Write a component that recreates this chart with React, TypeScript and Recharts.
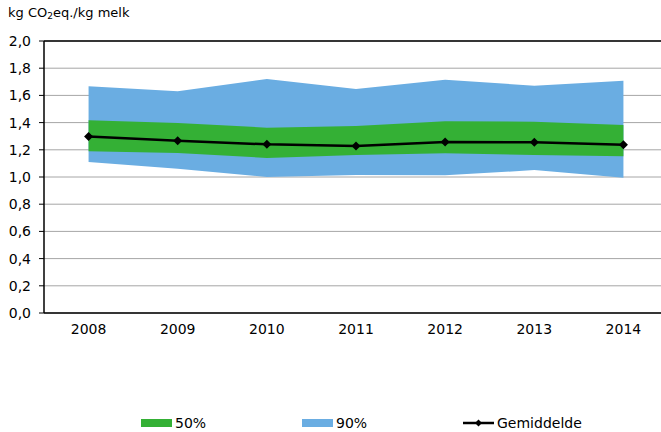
import React from "react";
import {
  ComposedChart,
  Area,
  Line,
  XAxis,
  YAxis,
  CartesianGrid,
  ReferenceLine,
} from "recharts";

const years = ["2008", "2009", "2010", "2011", "2012", "2013", "2014"];
const mean = [1.297, 1.267, 1.24, 1.228, 1.257, 1.255, 1.238];
const p50Low = [1.19, 1.176, 1.14, 1.162, 1.174, 1.162, 1.152];
const p50High = [1.417, 1.397, 1.363, 1.375, 1.41, 1.407, 1.382];
const p90Low = [1.11, 1.06, 1.0, 1.015, 1.012, 1.051, 0.995];
const p90High = [1.667, 1.63, 1.72, 1.647, 1.715, 1.671, 1.708];
const yTicks = [0, 0.2, 0.4, 0.6, 0.8, 1.0, 1.2, 1.4, 1.6, 1.8, 2.0];

const GREEN = "#34B035";
const BLUE = "#6AADE2";
const FONT = "'DejaVu Sans', Verdana, sans-serif";

const data = years.map((year, i) => ({
  x: i,
  year,
  mean: mean[i],
  p50: [p50Low[i], p50High[i]],
  p90: [p90Low[i], p90High[i]],
}));

const labelTicks = years.map((_, i) => i);
const edgeTicks = [...years.map((_, i) => i - 0.5), years.length - 0.5];

const legendItems = [
  { name: "50%", kind: "box", color: GREEN },
  { name: "90%", kind: "box", color: BLUE },
  { name: "Gemiddelde", kind: "line", color: "#000" },
];

const Diamond = (props: any) => {
  const { cx, cy } = props;
  if (cx == null || cy == null) return null;
  const r = 4.5;
  return (
    <path
      key={`d-${cx}`}
      d={`M${cx},${cy - r}L${cx + r},${cy}L${cx},${cy + r}L${cx - r},${cy}Z`}
      fill="#000"
    />
  );
};

const tickStyle = { fill: "#000", fontSize: 14, fontFamily: FONT };

export default function App() {
  return (
    <div
      style={{
        position: "absolute",
        left: 0,
        top: 0,
        width: 661,
        height: 432,
        overflow: "hidden",
        background: "#fff",
        fontFamily: FONT,
      }}
    >
      <div
        style={{
          position: "absolute",
          left: 8,
          top: 5,
          fontSize: 13,
          color: "#000",
          whiteSpace: "nowrap",
        }}
      >
        kg CO<sub style={{ fontSize: 9, verticalAlign: "-2px" }}>2</sub>eq./kg melk
      </div>

      <ComposedChart
        width={680}
        height={432}
        data={data}
        margin={{ top: 41, right: 12, bottom: 89, left: 0 }}
      >
        <CartesianGrid vertical={false} stroke="#A6A6A6" strokeWidth={1} />
        <XAxis
          xAxisId="edge"
          type="number"
          domain={[-0.5, 6.5]}
          allowDataOverflow
          ticks={edgeTicks}
          interval={0}
          height={0}
          axisLine={false}
          tickSize={4}
          tickLine={{ stroke: "#000" }}
          tickFormatter={() => ""}
        />
        <XAxis
          dataKey="x"
          type="number"
          domain={[-0.5, 6.5]}
          allowDataOverflow
          ticks={labelTicks}
          interval={0}
          height={30}
          tickLine={false}
          tickSize={6}
          tickMargin={5}
          axisLine={{ stroke: "#000", strokeWidth: 1.5 }}
          tick={tickStyle}
          tickFormatter={(i: number) => years[i] ?? ""}
        />
        <YAxis
          type="number"
          domain={[0, 2]}
          ticks={yTicks}
          interval={0}
          width={44}
          tickSize={5}
          tickMargin={8}
          tickLine={{ stroke: "#000" }}
          axisLine={{ stroke: "#000", strokeWidth: 1.5 }}
          tick={tickStyle}
          tickFormatter={(v: number) => v.toFixed(1).replace(".", ",")}
        />
        <Area
          dataKey="p90"
          type="linear"
          stroke="none"
          fill={BLUE}
          fillOpacity={1}
          dot={false}
          activeDot={false}
          isAnimationActive={false}
        />
        <Area
          dataKey="p50"
          type="linear"
          stroke="none"
          fill={GREEN}
          fillOpacity={1}
          dot={false}
          activeDot={false}
          isAnimationActive={false}
        />
        <ReferenceLine y={2} stroke="#000" strokeWidth={1.5} />
        <Line
          dataKey="mean"
          type="linear"
          stroke="#000"
          strokeWidth={2.5}
          dot={<Diamond />}
          activeDot={false}
          isAnimationActive={false}
        />
      </ComposedChart>

      <div style={{ position: "absolute", left: 141, top: 413, display: "flex" }}>
        {legendItems.map((item) => (
          <div
            key={item.name}
            style={{ width: 161, display: "flex", alignItems: "center", height: 20 }}
          >
            <svg width={31} height={10} style={{ marginRight: 3 }}>
              {item.kind === "box" ? (
                <rect x={0} y={1} width={31} height={8} fill={item.color} />
              ) : (
                <g>
                  <line x1={0} y1={5} x2={31} y2={5} stroke="#000" strokeWidth={2.5} />
                  <path d="M15.5,1.5L19,5L15.5,8.5L12,5Z" fill="#000" />
                </g>
              )}
            </svg>
            <span style={{ fontSize: 14, color: "#000" }}>{item.name}</span>
          </div>
        ))}
      </div>
    </div>
  );
}
